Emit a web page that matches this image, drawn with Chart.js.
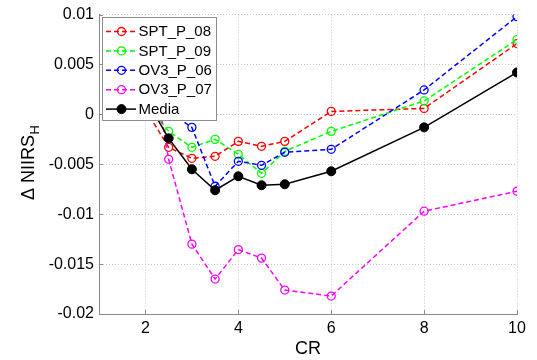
<!DOCTYPE html>
<html>
<head>
<meta charset="utf-8">
<script src="https://cdn.jsdelivr.net/npm/chart.js@4.4.1/dist/chart.umd.min.js"></script>
<style>
  html, body { margin: 0; padding: 0; background: #ffffff; }
  #wrap { width: 537px; height: 360px; position: relative; }
</style>
</head>
<body>
<div id="wrap"><canvas id="chart" width="537" height="360"></canvas></div>
<script>
// Compression ratio values (x) and NIIRS change per image (y)
const crValues = [2, 2.5, 3, 3.5, 4, 4.5, 5, 6, 8, 10];
const spt08 = [0.0005, -0.0033, -0.0044, -0.0042, -0.0027, -0.0032, -0.0027, 0.0003, 0.0006, 0.0071];
const spt09 = [0.0012, -0.0017, -0.0033, -0.0025, -0.0040, -0.0059, -0.0037, -0.0017, 0.00135, 0.0075];
const ov306 = [0.0020, 0.0003, -0.0013, -0.0072, -0.0047, -0.0051, -0.0038, -0.0035, 0.00245, 0.0098];
const ov307 = [0.0090, -0.0045, -0.0130, -0.0165, -0.01355, -0.0144, -0.0176, -0.0182, -0.0097, -0.0077];
const media = [0.0016, -0.0024, -0.0055, -0.0076, -0.0062, -0.0071, -0.0070, -0.0057, -0.0013, 0.0042];

const seriesNames = ['SPT_P_08', 'SPT_P_09', 'OV3_P_06', 'OV3_P_07', 'Media'];

const xTickValues = [2, 4, 6, 8, 10];
const yTickValues = [-0.02, -0.015, -0.01, -0.005, 0, 0.005, 0.01];
const yTickLabels = ['-0.02', '-0.015', '-0.01', '-0.005', '0', '0.005', '0.01'];

const toPoints = ys => crValues.map((x, i) => ({ x: x, y: ys[i] }));

const FONT = '"Liberation Sans", Arial, Helvetica, sans-serif';
const AXIS_COLOR = '#8a8a8a';

function dashedSeries(label, values, color, order) {
  return {
    label: label,
    data: toPoints(values),
    borderColor: color,
    borderWidth: 1.5,
    borderDash: [5, 3],
    pointStyle: 'circle',
    pointRadius: 4,
    pointBorderWidth: 1.3,
    pointBorderColor: color,
    pointBackgroundColor: 'rgba(0,0,0,0)',
    fill: false,
    tension: 0,
    order: order
  };
}

const datasets = [
  dashedSeries(seriesNames[0], spt08, '#ff0000', 5),
  dashedSeries(seriesNames[1], spt09, '#00ff00', 4),
  dashedSeries(seriesNames[2], ov306, '#0000ff', 3),
  dashedSeries(seriesNames[3], ov307, '#ff00ff', 2),
  {
    label: seriesNames[4],
    data: toPoints(media),
    borderColor: '#000000',
    borderWidth: 1.5,
    pointStyle: 'circle',
    pointRadius: 4.5,
    pointBorderWidth: 1,
    pointBorderColor: '#000000',
    pointBackgroundColor: '#000000',
    fill: false,
    tension: 0,
    order: 1
  }
];

// Inward tick marks on the left and bottom axes
const innerTicks = {
  id: 'innerTicks',
  beforeDatasetsDraw(chart) {
    const { ctx, chartArea: a, scales: { x, y } } = chart;
    ctx.save();
    ctx.strokeStyle = AXIS_COLOR;
    ctx.lineWidth = 1;
    ctx.beginPath();
    xTickValues.forEach(v => {
      const px = Math.round(x.getPixelForValue(v)) + 0.5;
      ctx.moveTo(px, a.bottom);
      ctx.lineTo(px, a.bottom - 4);
    });
    yTickValues.forEach(v => {
      const py = Math.round(y.getPixelForValue(v)) + 0.5;
      ctx.moveTo(a.left, py);
      ctx.lineTo(a.left + 4, py);
    });
    ctx.stroke();
    ctx.restore();
  }
};

// Y axis title with subscript H
const yTitle = {
  id: 'yTitle',
  afterDraw(chart) {
    const { ctx } = chart;
    ctx.save();
    ctx.translate(34, 200);
    ctx.rotate(-Math.PI / 2);
    ctx.fillStyle = '#000000';
    ctx.textAlign = 'left';
    ctx.textBaseline = 'alphabetic';
    ctx.font = '18px ' + FONT;
    const main = '\u0394 NIIRS';
    ctx.fillText(main, 0, 0);
    const w = ctx.measureText(main).width;
    ctx.font = '13px ' + FONT;
    ctx.fillText('H', w + 0.5, 4.5);
    ctx.restore();
  }
};

// Boxed legend inside the plot, drawn over the lines
const boxLegend = {
  id: 'boxLegend',
  afterDatasetsDraw(chart) {
    const { ctx } = chart;
    const bx = 102.5, by = 17.5, bw = 114, bh = 103;
    ctx.save();
    ctx.fillStyle = '#ffffff';
    ctx.fillRect(bx, by, bw, bh);
    ctx.strokeStyle = '#8c8c8c';
    ctx.lineWidth = 1;
    ctx.strokeRect(bx, by, bw, bh);
    ctx.font = '15px ' + FONT;
    ctx.textBaseline = 'middle';
    ctx.textAlign = 'left';
    chart.data.datasets.forEach((ds, i) => {
      const cy = 31.5 + i * 19.4;
      ctx.strokeStyle = ds.borderColor;
      ctx.lineWidth = ds.borderWidth;
      ctx.setLineDash(ds.borderDash || []);
      ctx.beginPath();
      ctx.moveTo(106, cy);
      ctx.lineTo(136, cy);
      ctx.stroke();
      ctx.setLineDash([]);
      ctx.beginPath();
      ctx.arc(121.5, cy, ds.pointRadius, 0, Math.PI * 2);
      if (ds.pointBackgroundColor !== 'rgba(0,0,0,0)') {
        ctx.fillStyle = ds.pointBackgroundColor;
        ctx.fill();
      }
      ctx.lineWidth = ds.pointBorderWidth;
      ctx.strokeStyle = ds.pointBorderColor;
      ctx.stroke();
      ctx.fillStyle = '#000000';
      ctx.fillText(ds.label, 138.5, cy + 0.5);
    });
    ctx.restore();
  }
};

new Chart(document.getElementById('chart'), {
  type: 'line',
  data: { datasets: datasets },
  plugins: [innerTicks, boxLegend, yTitle],
  options: {
    responsive: false,
    animation: false,
    devicePixelRatio: 1,
    layout: { padding: { top: 14, right: 20, left: 0, bottom: 0 } },
    plugins: {
      legend: { display: false },
      tooltip: { enabled: false },
      title: { display: false }
    },
    scales: {
      x: {
        type: 'linear',
        min: 1,
        max: 10,
        afterBuildTicks(scale) { scale.ticks = xTickValues.map(v => ({ value: v })); },
        afterFit(scale) { scale.height = 46; },
        ticks: {
          color: '#000000',
          font: { family: FONT, size: 16 },
          padding: 5,
          maxRotation: 0,
          callback: v => String(v)
        },
        grid: { color: '#c4c4c4', lineWidth: 1, drawTicks: false },
        border: { display: true, color: AXIS_COLOR, width: 1, dash: [1, 2] },
        title: {
          display: true,
          text: 'CR',
          color: '#000000',
          font: { family: FONT, size: 18 },
          padding: { top: 2, bottom: 0 }
        }
      },
      y: {
        type: 'linear',
        min: -0.02,
        max: 0.01,
        afterBuildTicks(scale) { scale.ticks = yTickValues.map(v => ({ value: v })); },
        afterFit(scale) { scale.width = 99; },
        ticks: {
          color: '#000000',
          font: { family: FONT, size: 16 },
          padding: 5,
          callback: function (v) {
            const i = yTickValues.findIndex(t => Math.abs(t - v) < 1e-9);
            return i >= 0 ? yTickLabels[i] : '';
          }
        },
        grid: { color: '#c4c4c4', lineWidth: 1, drawTicks: false },
        border: { display: true, color: AXIS_COLOR, width: 1, dash: [1, 2] }
      }
    }
  }
});
</script>
</body>
</html>
